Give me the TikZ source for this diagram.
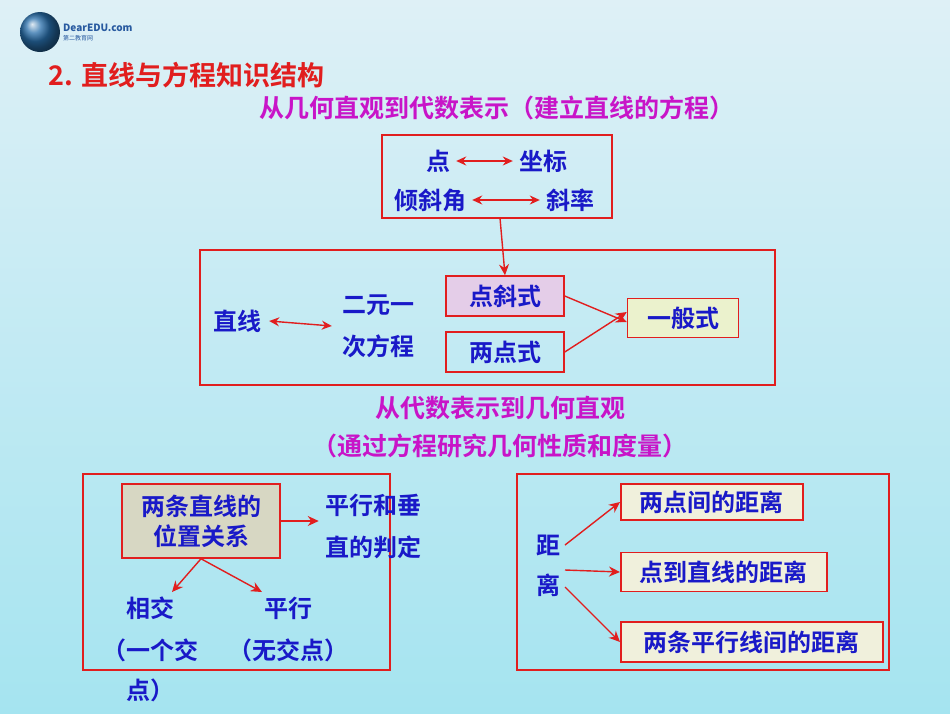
\documentclass[tikz,border=0pt]{standalone}
\usepackage{fontspec}
\setmainfont{Noto Sans CJK SC}[BoldFont={Noto Sans CJK SC Bold}]
\usetikzlibrary{arrows.meta}
\definecolor{rd}{RGB}{225,30,30}
\definecolor{bl}{RGB}{25,25,200}
\definecolor{mg}{RGB}{200,20,200}
\tikzset{
 t/.style={text=bl,font=\bfseries\fontsize{24}{26}\selectfont,inner sep=0pt},
 m/.style={text=mg,font=\bfseries\fontsize{25}{27}\selectfont,inner sep=0pt},
 frame/.style={draw=rd,line width=1.5pt},
 ar/.style={draw=rd,line width=1.4pt,-{Stealth[length=11pt,width=10pt]}},
 dar/.style={draw=rd,line width=1.4pt,{Stealth[length=10pt,width=9pt]}-{Stealth[length=10pt,width=9pt]}},
 bx/.style={draw=rd,line width=1.5pt,inner sep=0pt,text=bl,font=\bfseries\fontsize{24}{26}\selectfont}
}
\begin{document}
\begin{tikzpicture}[x=1pt,y=-1pt]
\useasboundingbox (0,0) rectangle (950,713);
\shade[top color={rgb,255:red,222;green,240;blue,246},bottom color={rgb,255:red,165;green,228;blue,240}] (0,0) rectangle (950,713);
% logo
\shade[ball color={rgb,255:red,40;green,110;blue,170}] (40,32) circle (20);
\node[anchor=west,text={rgb,255:red,40;green,90;blue,160},font=\bfseries\itshape\fontsize{10}{11}\selectfont,inner sep=0] (logo) at (63,28) {DearEDU.com};
\node[anchor=west,text={rgb,255:red,40;green,90;blue,160},font=\fontsize{6}{7}\selectfont,inner sep=0] (logo2) at (63,38) {第二教育网};
\node[anchor=west,text=rd,font=\bfseries\fontsize{27}{29}\selectfont,inner sep=0] (title) at (48,75) {2. 直线与方程知识结构};
\node[m] (s1) at (497,108) {从几何直观到代数表示（建立直线的方程）};
% box1
\draw[frame] (382,135) rectangle (612,218);
\coordinate (b1) at (500,218);
\node[t] (p) at (438,161) {点};
\node[t] (zb) at (543,161) {坐标};
\node[t] (qx) at (430,200) {倾斜角};
\node[t] (xl) at (570,200) {斜率};
\draw[dar] ([xshift=6pt]p.east) -- ([xshift=-6pt]zb.west);
\draw[dar] ([xshift=6pt]qx.east) -- ([xshift=-6pt]xl.west);
% box2
\draw[frame] (200,250) rectangle (775,385);
\node[t] (zx) at (237,321) {直线};
\node[t,align=center] (ey) at (378,326) {二元一\\[16pt]次方程};
\draw[dar] ([xshift=8pt]zx.east) -- ([xshift=-10pt]ey.west);
\node[bx,fill={rgb,255:red,228;green,205;blue,232},minimum width=118pt,minimum height=40pt] (dx) at (505,296) {点斜式};
\node[bx,minimum width=118pt,minimum height=40pt] (ld) at (505,352) {两点式};
\node[bx,fill={rgb,255:red,235;green,242;blue,205},minimum width=111pt,minimum height=39pt] (yb) at (683,318) {一般式};
\draw[ar] (b1) -- (dx.north);
\draw[ar] (dx.east) -- ([yshift=-4pt]yb.west);
\draw[ar] (ld.east) -- ([yshift=6pt]yb.west);
\node[m] (s2) at (500,408) {从代数表示到几何直观};
\node[m] (s3) at (500,446) {（通过方程研究几何性质和度量）};
% box3
\draw[frame] (83,474) rectangle (390,670);
\node[bx,fill={rgb,255:red,215;green,215;blue,195},minimum width=158pt,minimum height=74pt,align=center] (wz) at (201,521) {两条直线的\\[4pt]位置关系};
\node[t,align=center] (px) at (373,526) {平行和垂\\[16pt]直的判定};
\draw[ar] (wz.east) -- ++(38,0);
\node[t] (xj) at (150,608) {相交};
\node[t] (pp) at (288,608) {平行};
\node[t] (yg) at (150,650) {（一个交};
\node[t] (wj) at (288,650) {（无交点）};
\node[t] (dd) at (150,690) {点）};
\draw[ar] (wz.south) -- (172,592);
\draw[ar] (wz.south) -- (262,592);
% box4
\draw[frame] (517,474) rectangle (889,670);
\node[t] (ju) at (548,545) {距};
\node[t] (li) at (548,585) {离};
\node[bx,fill={rgb,255:red,240;green,240;blue,220},minimum width=182pt,minimum height=36pt,anchor=west] (d1) at (620,502) {两点间的距离};
\node[bx,fill={rgb,255:red,240;green,240;blue,220},minimum width=206pt,minimum height=39pt,anchor=west] (d2) at (620,572) {点到直线的距离};
\node[bx,fill={rgb,255:red,240;green,240;blue,220},minimum width=262pt,minimum height=40pt,anchor=west] (d3) at (620,642) {两条平行线间的距离};
\draw[ar] (565,545) -- (d1.west);
\draw[ar] (565,570) -- (d2.west);
\draw[ar] (565,587) -- (d3.west);
\end{tikzpicture}
\end{document}
